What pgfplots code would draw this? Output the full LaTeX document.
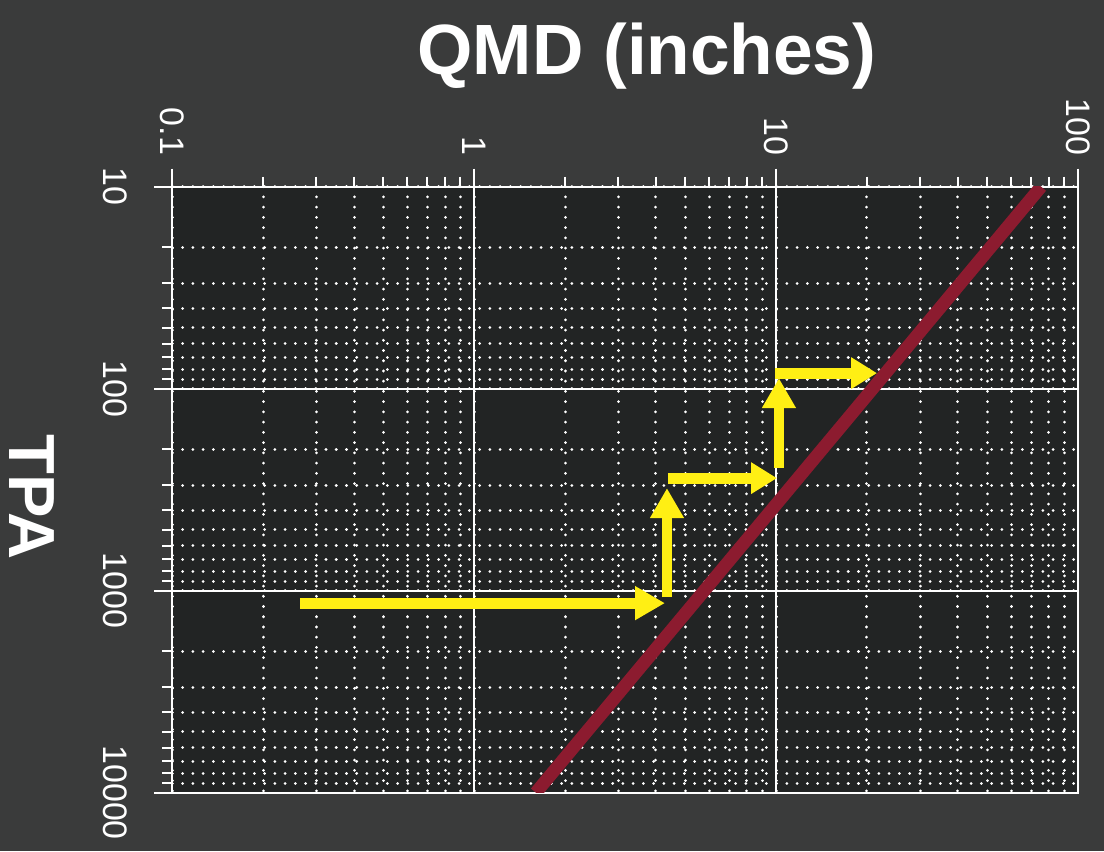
\documentclass[border=0pt]{standalone}
\usepackage{fontspec}
\setmainfont{Liberation Sans}
\usepackage{pgfplots}
\pgfplotsset{compat=1.18}
\usetikzlibrary{arrows.meta}
\definecolor{slate}{HTML}{3A3B3B}
\definecolor{panel}{HTML}{222424}
\definecolor{sdired}{HTML}{8C1B2F}
\definecolor{arrowyel}{HTML}{FFEF14}

\begin{document}
\begin{tikzpicture}
\useasboundingbox (-43.1pt,-14.6pt) rectangle (232.9pt,198.15pt);
\fill[slate] (-43.1pt,-14.6pt) rectangle (232.9pt,198.15pt);
\begin{axis}[at={(0,0)},anchor=south west,scale only axis,
 width=226.4pt,height=151.5pt,
 xmode=log,ymode=log,y dir=reverse,
 xmin=0.1,xmax=100,ymin=10,ymax=10000,
 clip mode=individual,
 axis background/.style={fill=panel},
 axis line style={white,line width=0.5pt},
 grid=both,
 major grid style={white,line width=0.5pt},
 minor grid style={white,line width=0.75pt,dash pattern=on 0.01pt off 2.55pt,line cap=round},
 tick align=outside,major tick length=4.5pt,minor tick length=2.5pt,
 tick style={white,line width=0.5pt},
 xtick pos=right,xticklabel pos=right,ytick pos=left,yticklabel pos=left,
 xtick={0.1,1,10,100},xticklabels={0.1,1,10,100},
 ytick={10,100,1000,10000},yticklabels={10,100,1000,10000},
 tick label style={white,font=\fontsize{8.5}{9}\selectfont},
 xticklabel style={rotate=-90,anchor=east,inner sep=0pt},
 yticklabel style={rotate=-90,anchor=north,inner sep=0pt},
 xticklabel shift=3.2pt,yticklabel shift=6.6pt]
% self-thinning line
\addplot[sdired,line width=3.2pt] coordinates {(1.6,10000)(75.5,10)};
% stand development path
\addplot[arrowyel,line width=2.7pt,-{Triangle[width=8pt,length=7.5pt]}] coordinates {(0.2646,1153)(4.285,1153)};
\addplot[arrowyel,line width=2.7pt,-{Triangle[width=8pt,length=7.5pt]}] coordinates {(4.35,1077)(4.35,310.9)};
\addplot[arrowyel,line width=2.7pt,-{Triangle[width=7.5pt,length=6.5pt]}] coordinates {(4.38,277.4)(10.07,277.4)};
\addplot[arrowyel,line width=2.7pt,-{Triangle[width=8pt,length=7.5pt]}] coordinates {(10.22,247.5)(10.22,88.7)};
\addplot[arrowyel,line width=2.7pt,-{Triangle[width=7.5pt,length=6.5pt]}] coordinates {(9.92,83.8)(21.6,83.8)};
\node[white,font=\bfseries\fontsize{17.8}{18}\selectfont] at (axis description cs:0.524,1.215) {QMD (inches)};
\node[white,font=\bfseries\fontsize{16.3}{17}\selectfont,rotate=-90] at (axis description cs:-0.155,0.4876) {TPA};
\end{axis}
\end{tikzpicture}
\end{document}
